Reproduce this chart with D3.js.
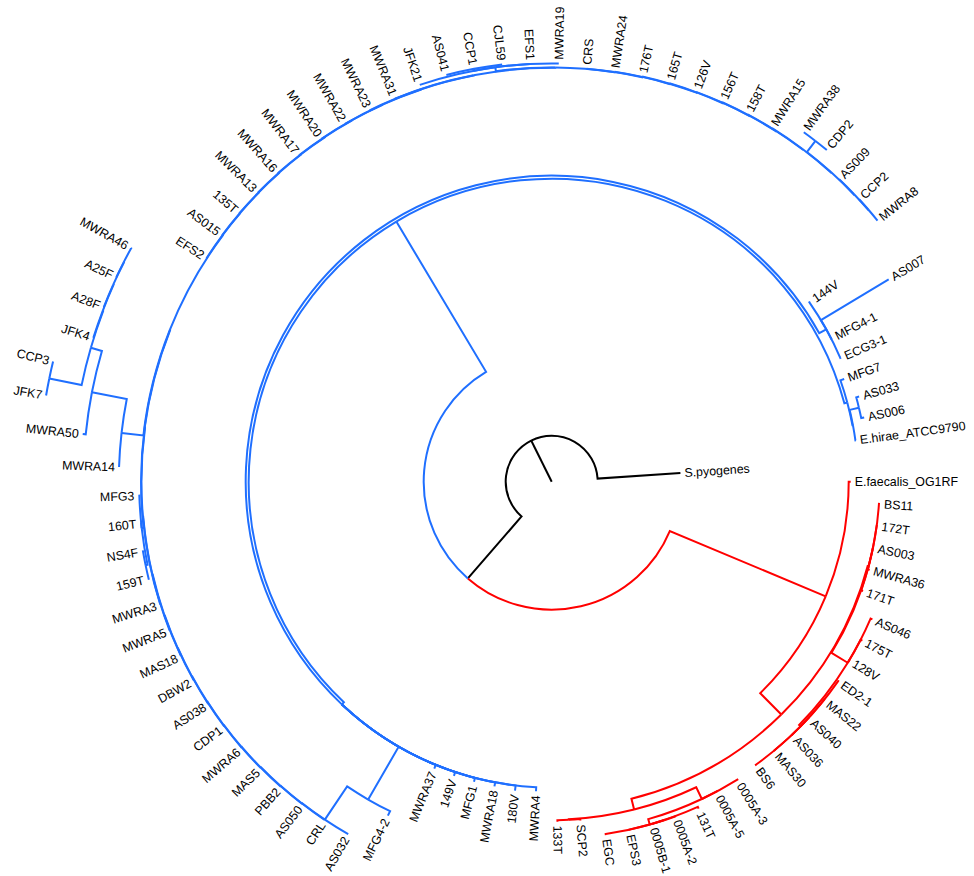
<!DOCTYPE html>
<html>
<head>
<meta charset="utf-8">
<title>Enterococcus circular tree</title>
<script src="https://cdn.jsdelivr.net/npm/d3@7/dist/d3.min.js"></script>
<style>
  html, body { margin: 0; padding: 0; background: #ffffff; }
  #chart svg { display: block; }
  .tip-label { font-family: Arial, "Liberation Sans", Helvetica, sans-serif; font-size: 12.4px; fill: #000; }
</style>
</head>
<body>
<div id="chart"></div>
<script>
// ---- tree data: branch lengths in substitutions / site ----
const rootEdge = 0.046;
const ingroupEdge = 0.082;
const outgroupTip = "S.pyogenes:0.083";

// E. faecalis clade (red)
const redClade = "(E.faecalis_OG1RF:0.002,((BS11:0.001,172T:0.001,AS003:0.001,MWRA36:0.002,171T:0.002,(AS046:0.002,175T:0.002,128V:0.001,(ED2-1:0.001,MAS22:0.001,AS040:0.001,AS036:0.001,MAS30:0.001,BS6:0.001):0.002):0.019):0.001,((0005A-3:0.001,0005A-5:0.001,(131T:0.002,(0005A-2:0.0003,0005B-1:0.0003):0.0003,EPS3:0.001,EGC:0.001):0.0055):0.013,(SCP2:0.0015,133T:0.0015):0.0005):0.011):0.030):0.169";

// E. hirae / faecium clade (blue); @outer is the long ladder below
const blueClade = "((MWRA4:0.004,180V:0.005,MWRA18:0.004,MFG1:0.004,149V:0.004,MWRA37:0.004,(MFG4-2:0.005,@outer:0.040):0.061,(144V:0.001,AS007:0.079,MFG4-1:0.001,ECG3-1:0.001):0.008):0.003,(MFG7:0.004,((AS033:0.003,AS006:0.003):0.0095,E.hirae_ATCC9790:0.0005):0.0005):0.003):0.175";

// members of the outer ladder, in order; @names are small sub-clades
const outerLadder = ["AS032", "CRL", "AS050", "PBB2", "MAS5", "MWRA6", "CDP1", "AS038", "DBW2", "MAS18",
  "MWRA5", "MWRA3", "@mfg3", "@mwra14", "EFS2", "AS015", "135T", "MWRA13", "MWRA16", "MWRA17",
  "MWRA20", "MWRA22", "MWRA23", "MWRA31", "@jfk21", "CRS", "MWRA24", "176T", "165T", "126V",
  "156T", "158T", "MWRA15", "@mwra38", "AS009", "CCP2", "MWRA8"];
const ladderStep = 0.0003;

const subClades = {
  mfg3: "((159T:0.001,NS4F:0.001):0.002,160T:0.001,MFG3:0.001):0.002",
  mwra14: "(MWRA14:0,(MWRA50:0.003,((JFK7:0,CCP3:0):0.033,(JFK4:0,(A28F:0.0003,(A25F:0.0003,MWRA46:0.0003):0.0003):0.0003):0.0005):0.0115):0.0355):0.022",
  jfk21: "(JFK21:0,(AS041:0,CCP1:0,CJL59:0):0.002,EFS1:0,MWRA19:0):0.004",
  mwra38: "(MWRA38:0,CDP2:0):0.014"
};

const cladeColor = { red: "#ff0000", blue: "#1f6fff", none: "#000000" };

// ---- newick parsing ----
function parseNewick(s) {
  let i = 0;
  function node() {
    const n = { name: "", length: 0 };
    if (s[i] === "(") {
      n.children = [];
      i++;
      n.children.push(node());
      while (s[i] === ",") { i++; n.children.push(node()); }
      i++;
    }
    let name = "";
    while (i < s.length && !",():;".includes(s[i])) name += s[i++];
    n.name = name;
    if (s[i] === ":") {
      i++;
      let num = "";
      while (i < s.length && !",();".includes(s[i])) num += s[i++];
      n.length = +num;
    }
    return n;
  }
  return node();
}

function member(m) {
  if (m.startsWith("@")) return parseNewick(subClades[m.slice(1)]);
  return { name: m, length: 0 };
}

// right-handed ladder (a,(b,(c,...)))
function ladder(list, step) {
  const nodes = list.map(member);
  let cur = nodes[nodes.length - 1];
  for (let k = nodes.length - 2; k >= 0; k--) {
    cur = { name: "", length: step, children: [nodes[k], cur] };
  }
  return cur;
}

function replaceOuter(n) {
  if (!n.children) return;
  n.children = n.children.map(c => {
    if (c.name === "@outer") {
      const l = ladder(outerLadder, ladderStep);
      l.length = c.length;
      return l;
    }
    replaceOuter(c);
    return c;
  });
}

function paint(n, col) {
  n.color = col;
  (n.children || []).forEach(c => paint(c, col));
}

const red = parseNewick(redClade);
const blue = parseNewick(blueClade);
replaceOuter(blue);
paint(red, "red");
paint(blue, "blue");
const outg = parseNewick(outgroupTip);
outg.color = "none";

const treeData = {
  name: "root", length: rootEdge, color: "none",
  children: [
    { name: "", length: ingroupEdge, color: "none", children: [red, blue] },
    outg
  ]
};

// ---- layout ----
const width = 974, height = 876;
const cx = 551.7, cy = 481.7;

const root = d3.hierarchy(treeData);
const leaves = root.leaves();
const step = 2 * Math.PI / leaves.length;
leaves.forEach((d, i) => { d.angle = i * step; });
root.eachAfter(d => {
  if (d.children) d.angle = d3.mean(d.children, c => c.angle);
});
root.eachBefore(d => {
  d.dist = (d.parent ? d.parent.dist : 0) + d.data.length;
});

const radius = d3.scaleLinear().domain([0, 1]).range([0, 1000]);

const svg = d3.select("#chart").append("svg")
  .attr("width", width)
  .attr("height", height);

const g = svg.append("g").attr("transform", `translate(${cx},${cy})`);

// root stub
g.append("line")
  .attr("x1", 0).attr("y1", 0)
  .attr("x2", radius(root.dist) * Math.cos(root.angle))
  .attr("y2", radius(root.dist) * Math.sin(root.angle))
  .attr("stroke", cladeColor.none)
  .attr("stroke-width", 2);

// branches: arc along parent radius, then radial segment
g.append("g")
  .selectAll("path")
  .data(root.descendants().filter(d => d.parent))
  .join("path")
  .attr("d", d => {
    const pr = radius(d.parent.dist), r = radius(d.dist);
    const pa = d.parent.angle, a = d.angle;
    const p = d3.path();
    p.moveTo(pr * Math.cos(pa), pr * Math.sin(pa));
    p.arc(0, 0, pr, pa, a, a < pa);
    p.lineTo(r * Math.cos(a), r * Math.sin(a));
    return p.toString();
  })
  .attr("fill", "none")
  .attr("stroke", d => cladeColor[d.data.color])
  .attr("stroke-width", 2);

// tip labels
g.append("g")
  .selectAll("text")
  .data(leaves)
  .join("text")
  .attr("class", "tip-label")
  .attr("dy", "0.35em")
  .attr("transform", d => {
    const deg = d.angle * 180 / Math.PI;
    const flip = deg > 90 && deg < 270;
    return `rotate(${deg}) translate(${radius(d.dist) + 4},0)` + (flip ? " rotate(180)" : "");
  })
  .attr("text-anchor", d => {
    const deg = d.angle * 180 / Math.PI;
    return deg > 90 && deg < 270 ? "end" : "start";
  })
  .text(d => d.data.name);
</script>
</body>
</html>
